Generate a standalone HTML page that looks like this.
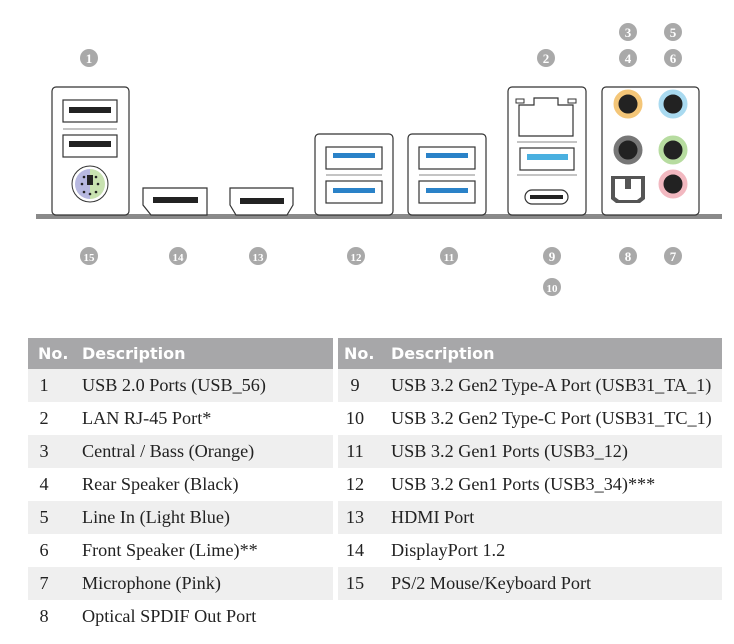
<!DOCTYPE html>
<html><head><meta charset="utf-8"><style>
body{margin:0;width:734px;height:644px;background:#fff;position:relative;overflow:hidden;font-family:"Liberation Serif",serif}
svg{position:absolute;left:0;top:0}
table{position:absolute;border-collapse:collapse;font-size:18.2px;color:#222;table-layout:fixed}
td,th{height:33px;padding:0;text-align:left;font-weight:normal;white-space:nowrap}
th{background:#a7a7a9;color:#fff;font-family:"DejaVu Sans","Liberation Sans",sans-serif;font-weight:bold;font-size:16px;height:31px}
tr.g td{background:#efefef}
td.n{text-align:center}
#L td.n{padding-right:22px}
#R td.n{padding-right:19px}
</style></head><body>
<svg width="734" height="320" viewBox="0 0 734 320">
<defs><g id="c"><circle r="9" fill="#a9a9a9"/></g></defs>
<rect x="36" y="214" width="686" height="5" fill="#8a8a8a"/>
<g fill="#fff" stroke="#333" stroke-width="1.2">
<rect x="52" y="87" width="77" height="128" rx="4"/>
<rect x="315" y="134" width="78" height="81" rx="4"/>
<rect x="408" y="134" width="78" height="81" rx="4"/>
<rect x="508" y="87" width="78" height="128" rx="4"/>
<rect x="602" y="87" width="97" height="128" rx="4"/>
<path d="M143 188H207V215H151L143 205Z"/>
<path d="M230 188H293V205L287 215H236L230 205Z"/>
<rect x="63" y="100" width="54" height="22"/>
<rect x="63" y="135" width="54" height="22"/>
<rect x="326" y="147" width="56" height="22"/><rect x="326" y="181" width="56" height="22"/>
<rect x="419" y="147" width="56" height="22"/><rect x="419" y="181" width="56" height="22"/>
<path d="M519 105H534V98H558V105H573V136H519Z"/>
<rect x="520" y="148" width="54" height="22"/>
<rect x="525" y="190" width="43" height="14" rx="7"/>
</g>
<g stroke="#888" stroke-width="1"><line x1="63" y1="129" x2="117" y2="129"/><line x1="326" y1="175" x2="382" y2="175"/><line x1="419" y1="175" x2="475" y2="175"/><line x1="517" y1="142" x2="577" y2="142"/><line x1="517" y1="175" x2="577" y2="175"/></g>
<g fill="none" stroke="#333"><rect x="516" y="99" width="8" height="4"/><rect x="568" y="99" width="8" height="4"/></g>
<g fill="#222"><rect x="69" y="107" width="42" height="6"/><rect x="69" y="141" width="42" height="6"/><rect x="153" y="197" width="45" height="6"/><rect x="240" y="198" width="44" height="6"/><rect x="530" y="195" width="33" height="4"/></g>
<g fill="#2a82c8"><rect x="333" y="153" width="42" height="5"/><rect x="333" y="188" width="42" height="5"/><rect x="426" y="153" width="42" height="5"/><rect x="426" y="188" width="42" height="5"/></g>
<rect x="527" y="154" width="41" height="6" fill="#4ab0e0"/>
<circle cx="90" cy="184" r="18" fill="#fff" stroke="#333"/>
<path d="M90 169a15 15 0 0 0 0 30Z" fill="#b7b8e0"/><path d="M90 169a15 15 0 0 1 0 30Z" fill="#c8e2b0"/>
<rect x="87" y="175" width="6" height="10" fill="#222"/>
<g fill="#222"><circle cx="82" cy="184" r="1.3"/><circle cx="98" cy="184" r="1.3"/><circle cx="84" cy="192" r="1.3"/><circle cx="96" cy="192" r="1.3"/><circle cx="90" cy="194" r="1.3"/><circle cx="84" cy="177" r="1.3"/><circle cx="96" cy="177" r="1.3"/></g>
<g stroke-width="5">
<circle cx="628" cy="104" r="12" fill="#222" stroke="#f4c678"/>
<circle cx="673" cy="104" r="12" fill="#222" stroke="#a9daf0"/>
<circle cx="628" cy="150" r="12" fill="#222" stroke="#777"/>
<circle cx="673" cy="150" r="12" fill="#222" stroke="#b7dca0"/>
<circle cx="673" cy="184" r="12" fill="#222" stroke="#f2b8c0"/>
</g>
<path d="M611 176H645V199L640 203H616L611 199Z" fill="#555"/>
<path d="M615 179H641V197L637 200H619L615 197Z" fill="#fff"/>
<rect x="625" y="179" width="6" height="10" fill="#555"/>
<g font-family="Liberation Serif,serif" font-weight="bold" font-size="13" fill="#fff" text-anchor="middle">
<g transform="translate(89,58)"><use href="#c"/><text y="5">1</text></g>
<g transform="translate(546,58)"><use href="#c"/><text y="5">2</text></g>
<g transform="translate(628,32)"><use href="#c"/><text y="5">3</text></g>
<g transform="translate(628,58)"><use href="#c"/><text y="5">4</text></g>
<g transform="translate(673,32)"><use href="#c"/><text y="5">5</text></g>
<g transform="translate(673,58)"><use href="#c"/><text y="5">6</text></g>
<g transform="translate(89,256)"><use href="#c"/><text y="5" font-size="11">15</text></g>
<g transform="translate(178,256)"><use href="#c"/><text y="5" font-size="11">14</text></g>
<g transform="translate(258,256)"><use href="#c"/><text y="5" font-size="11">13</text></g>
<g transform="translate(356,256)"><use href="#c"/><text y="5" font-size="11">12</text></g>
<g transform="translate(449,256)"><use href="#c"/><text y="5" font-size="11">11</text></g>
<g transform="translate(552,256)"><use href="#c"/><text y="5">9</text></g>
<g transform="translate(552,287)"><use href="#c"/><text y="5" font-size="11">10</text></g>
<g transform="translate(628,256)"><use href="#c"/><text y="5">8</text></g>
<g transform="translate(673,256)"><use href="#c"/><text y="5">7</text></g>
</g>
</svg>
<table id="L" style="left:28px;top:338px;width:305px">
<colgroup><col style="width:54px"><col></colgroup>
<tr><th style="padding-left:10px">No.</th><th>Description</th></tr>
<tr class="g"><td class="n">1</td><td>USB 2.0 Ports (USB_56)</td></tr>
<tr><td class="n">2</td><td>LAN RJ-45 Port*</td></tr>
<tr class="g"><td class="n">3</td><td>Central / Bass (Orange)</td></tr>
<tr><td class="n">4</td><td>Rear Speaker (Black)</td></tr>
<tr class="g"><td class="n">5</td><td>Line In (Light Blue)</td></tr>
<tr><td class="n">6</td><td>Front Speaker (Lime)**</td></tr>
<tr class="g"><td class="n">7</td><td>Microphone (Pink)</td></tr>
<tr><td class="n">8</td><td>Optical SPDIF Out Port</td></tr>
</table>
<table id="R" style="left:338px;top:338px;width:384px">
<colgroup><col style="width:53px"><col></colgroup>
<tr><th style="padding-left:6px">No.</th><th>Description</th></tr>
<tr class="g"><td class="n">9</td><td>USB 3.2 Gen2 Type-A Port (USB31_TA_1)</td></tr>
<tr><td class="n">10</td><td>USB 3.2 Gen2 Type-C Port (USB31_TC_1)</td></tr>
<tr class="g"><td class="n">11</td><td>USB 3.2 Gen1 Ports (USB3_12)</td></tr>
<tr><td class="n">12</td><td>USB 3.2 Gen1 Ports (USB3_34)***</td></tr>
<tr class="g"><td class="n">13</td><td>HDMI Port</td></tr>
<tr><td class="n">14</td><td>DisplayPort 1.2</td></tr>
<tr class="g"><td class="n">15</td><td>PS/2 Mouse/Keyboard Port</td></tr>
</table>
</body></html>
